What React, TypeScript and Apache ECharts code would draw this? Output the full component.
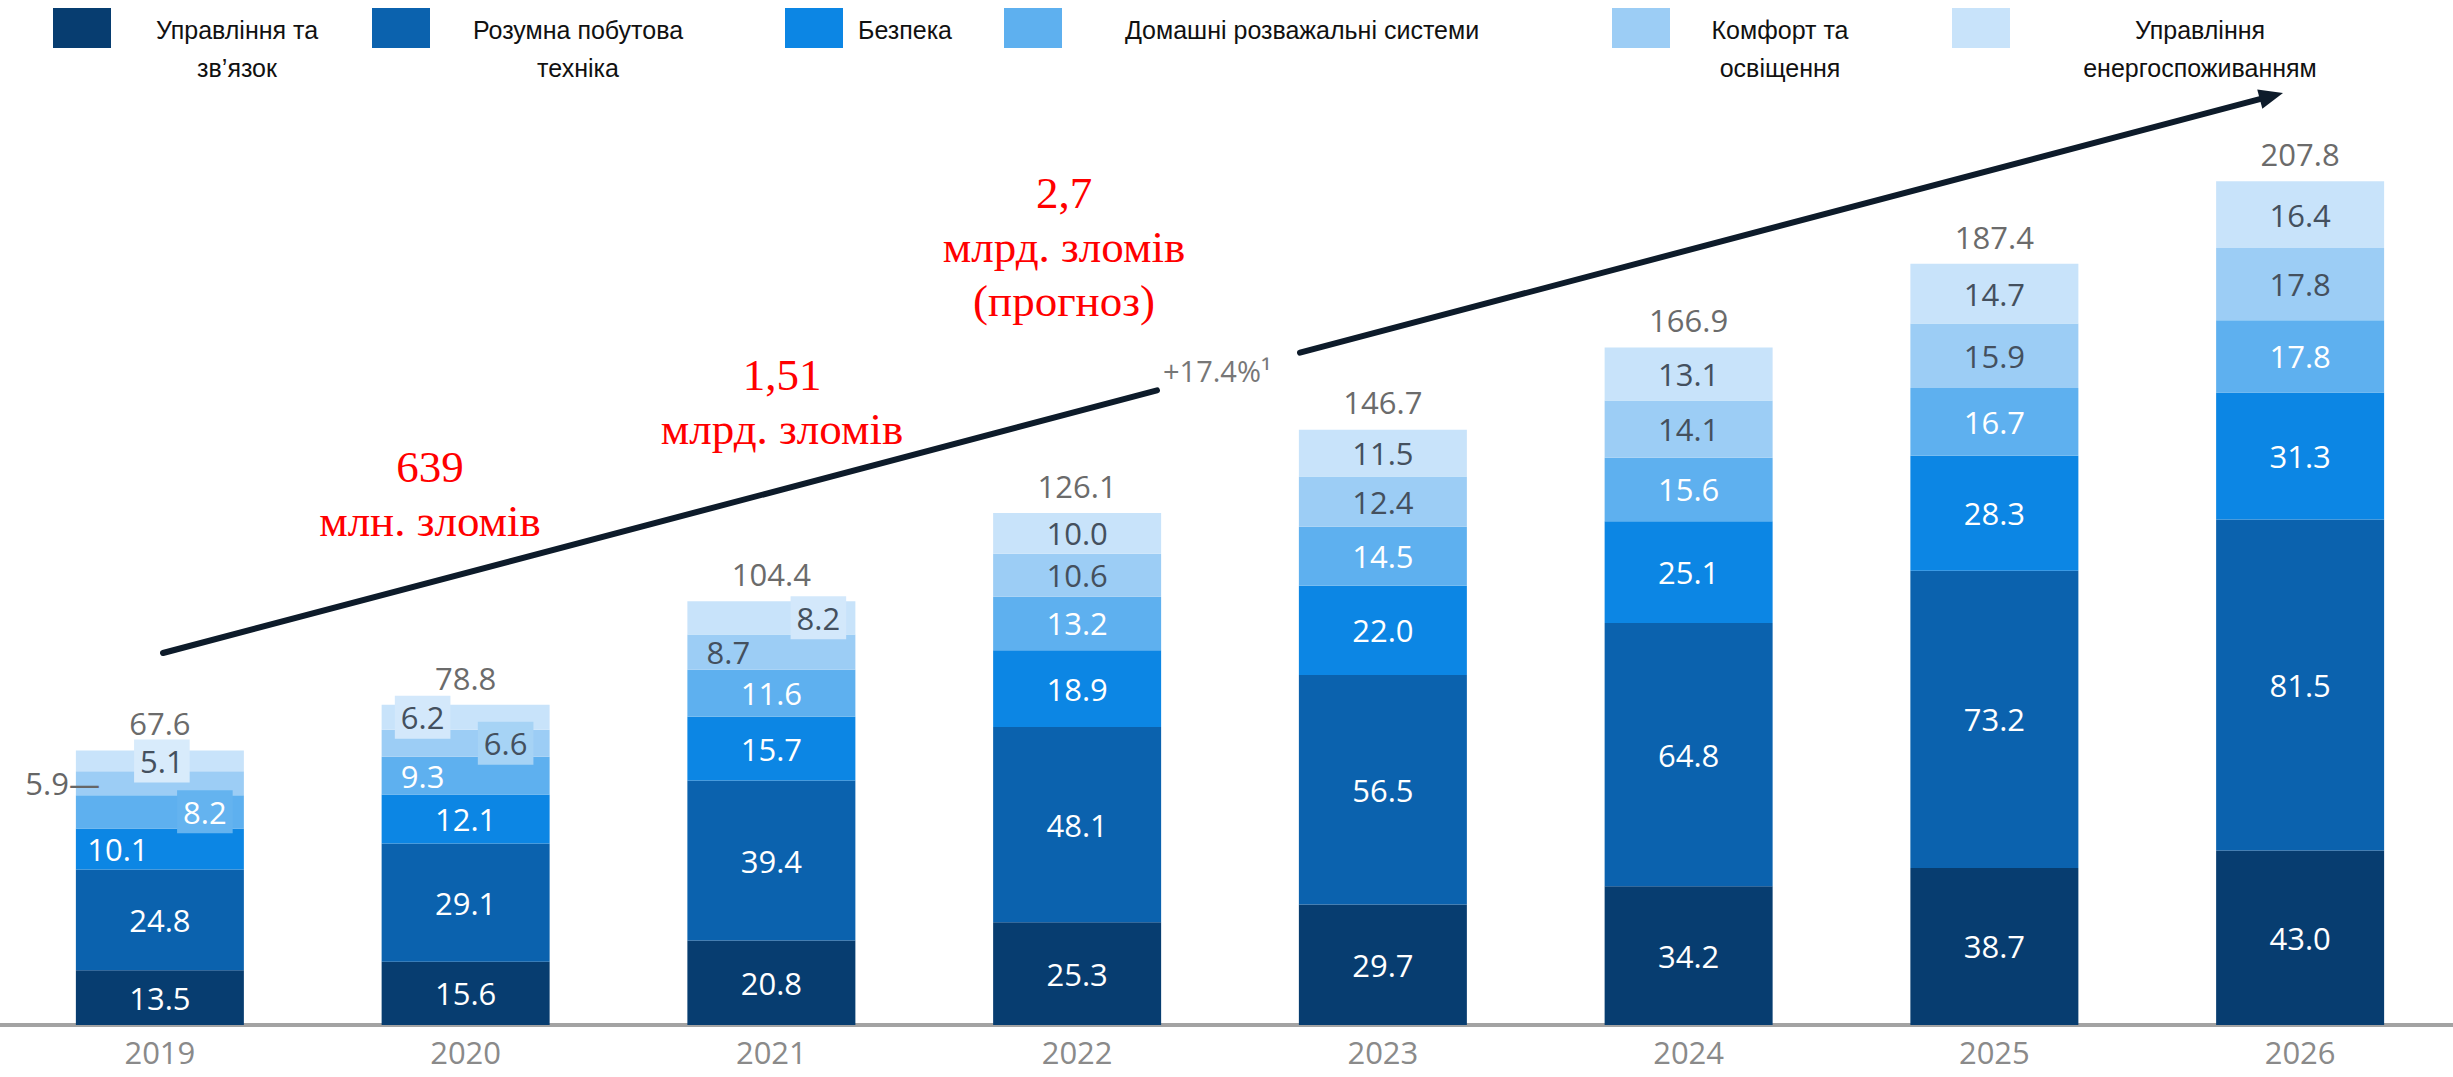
import React, { useEffect, useRef } from "react";
import * as echarts from "echarts";

const years = ["2019", "2020", "2021", "2022", "2023", "2024", "2025", "2026"];
const seriesNames = [
  "Управління та зв’язок",
  "Розумна побутова техніка",
  "Безпека",
  "Домашні розважальні системи",
  "Комфорт та освіщення",
  "Управління енергоспоживанням",
];
const legendLabels = [
  "Управління та\nзв’язок",
  "Розумна побутова\nтехніка",
  "Безпека",
  "Домашні розважальні системи",
  "Комфорт та\nосвіщення",
  "Управління\nенергоспоживанням",
];
const controlConnect = [13.5, 15.6, 20.8, 25.3, 29.7, 34.2, 38.7, 43.0];
const smartAppliances = [24.8, 29.1, 39.4, 48.1, 56.5, 64.8, 73.2, 81.5];
const security = [10.1, 12.1, 15.7, 18.9, 22.0, 25.1, 28.3, 31.3];
const entertainment = [8.2, 9.3, 11.6, 13.2, 14.5, 15.6, 16.7, 17.8];
const comfortLighting = [5.9, 6.6, 8.7, 10.6, 12.4, 14.1, 15.9, 17.8];
const energyMgmt = [5.1, 6.2, 8.2, 10.0, 11.5, 13.1, 14.7, 16.4];
const totals = [67.6, 78.8, 104.4, 126.1, 146.7, 166.9, 187.4, 207.8];
const seriesValues = [controlConnect, smartAppliances, security, entertainment, comfortLighting, energyMgmt];

const annotations = [
  { lines: ["639", "млн. зломів"] },
  { lines: ["1,51", "млрд. зломів"] },
  { lines: ["2,7", "млрд. зломів", "(прогноз)"] },
];
const cagrLabel = "+17.4%¹";

const colors = ["#073d70", "#0b62ae", "#0c86e4", "#5eb0ef", "#9ccdf5", "#c8e3fa"];
const labelColors = ["#ffffff", "#ffffff", "#ffffff", "#ffffff", "#44505e", "#44505e"];

// label placement tweaks for small segments: [seriesIndex][yearIndex]
const labelTweaks: Record<string, any> = {
  "2-0": { offset: [-42, 0] },
  "3-0": { offset: [45, 0], backgroundColor: "#64b3ef", padding: [6, 6] },
  "4-0": { position: "left", distance: 0, offset: [24, 0], formatter: "{c}—", color: "#666666" },
  "5-0": { offset: [2, 0], backgroundColor: "#d8ebfb", padding: [6, 6] },
  "3-1": { offset: [-43, 0] },
  "4-1": { offset: [40, 0], backgroundColor: "#a6d3f5", padding: [6, 6] },
  "5-1": { offset: [-43, 0], backgroundColor: "#d3e8fb", padding: [6, 6] },
  "4-2": { offset: [-43, 0] },
  "5-2": { offset: [47, 0], backgroundColor: "#d3e8fb", padding: [6, 6] },
};

const LABEL_FONT = "'Open Sans', 'Noto Sans', sans-serif";

export default function App() {
  const ref = useRef<HTMLDivElement>(null);

  useEffect(() => {
    if (!ref.current) return;
    const chart = echarts.init(ref.current, undefined, { renderer: "svg" });

    const barSeries: any[] = seriesValues.map((vals, si) => ({
      name: seriesNames[si],
      type: "bar",
      stack: "total",
      barWidth: 168,
      itemStyle: { color: colors[si] },
      label: {
        show: true,
        position: "inside",
        color: labelColors[si],
        fontSize: 31,
        fontFamily: LABEL_FONT,
        formatter: (p: any) => Number(p.value).toFixed(1),
      },
      data: vals.map((v, yi) => {
        const t = labelTweaks[`${si}-${yi}`];
        if (!t) return v;
        const lab: any = { ...t };
        if (t.formatter) {
          const f = t.formatter;
          lab.formatter = () => f.replace("{c}", v.toFixed(1));
        }
        return { value: v, label: lab };
      }),
    }));

    barSeries.push({
      name: "total",
      type: "bar",
      barWidth: 168,
      barGap: "-100%",
      z: 1,
      itemStyle: { color: "rgba(0,0,0,0)" },
      label: {
        show: true,
        position: "top",
        distance: 12,
        color: "#6b6b6b",
        fontSize: 31,
        fontFamily: LABEL_FONT,
        formatter: (p: any) => Number(p.value).toFixed(1),
      },
      data: totals,
    });

    // legend drawn as graphic
    const squareX = [53, 372, 785, 1004, 1612, 1952];
    const textX = [237, 578, 905, 1302, 1780, 2200];
    const legendGraphic: any[] = [];
    seriesNames.forEach((_, i) => {
      legendGraphic.push({
        type: "rect",
        shape: { x: squareX[i], y: 8, width: 58, height: 40 },
        style: { fill: colors[i] },
      });
      legendGraphic.push({
        type: "text",
        x: textX[i],
        y: 11,
        style: {
          text: legendLabels[i],
          fill: "#111111",
          fontSize: 25,
          fontFamily: "'Liberation Sans Narrow', 'Liberation Sans', Arial, sans-serif",
          align: "center",
          verticalAlign: "top",
          lineHeight: 38,
        },
      });
    });

    // red annotations
    const annPos = [
      { x: 430, y: 440 },
      { x: 782, y: 348 },
      { x: 1064, y: 166 },
    ];
    const annGraphic = annotations.map((a, i) => ({
      type: "text",
      x: annPos[i].x,
      y: annPos[i].y,
      style: {
        text: a.lines.join("\n"),
        fill: "#ff0000",
        fontSize: 45,
        fontWeight: "normal",
        lineHeight: 54,
        fontFamily: "'Liberation Serif', 'Times New Roman', serif",
        align: "center",
        verticalAlign: "top",
      },
    }));

    // trend arrow
    const start = [163, 653];
    const tip = [2283, 93];
    const dx = tip[0] - start[0];
    const dy = tip[1] - start[1];
    const len = Math.sqrt(dx * dx + dy * dy);
    const ux = dx / len;
    const uy = dy / len;
    const headLen = 24;
    const headHalf = 10;
    const base = [tip[0] - ux * headLen, tip[1] - uy * headLen];
    const px = -uy;
    const py = ux;
    const yAt = (x: number) => start[1] + (dy / dx) * (x - start[0]);
    const gapStart = 1157;
    const gapEnd = 1300;
    const lineStyle = { stroke: "#0d1b2a", lineWidth: 6, lineCap: "round" };
    const arrowGraphic: any[] = [
      {
        type: "line",
        shape: { x1: start[0], y1: start[1], x2: gapStart, y2: yAt(gapStart) },
        style: lineStyle,
      },
      {
        type: "line",
        shape: { x1: gapEnd, y1: yAt(gapEnd), x2: base[0], y2: base[1] },
        style: lineStyle,
      },
      {
        type: "polygon",
        shape: {
          points: [
            [tip[0], tip[1]],
            [base[0] + px * headHalf, base[1] + py * headHalf],
            [base[0] - px * headHalf, base[1] - py * headHalf],
          ],
        },
        style: { fill: "#0d1b2a" },
      },
      {
        type: "text",
        x: 1163,
        y: 370,
        style: {
          text: cagrLabel,
          fill: "#777777",
          fontSize: 29,
          fontFamily: LABEL_FONT,
          align: "left",
          verticalAlign: "middle",
        },
      },
    ];

    chart.setOption({
      animation: false,
      backgroundColor: "#ffffff",
      grid: { left: 7, width: 2448, top: 50.6, height: 974.4 },
      xAxis: {
        type: "category",
        data: years,
        axisLine: { show: true, lineStyle: { color: "#a3a3a3", width: 4 } },
        axisTick: { show: false },
        axisLabel: {
          color: "#8a8a8a",
          fontSize: 31,
          fontFamily: LABEL_FONT,
          margin: 11,
        },
      },
      yAxis: {
        type: "value",
        min: 0,
        max: 240,
        show: false,
        splitLine: { show: false },
      },
      series: barSeries,
      graphic: [
        {
          type: "line",
          shape: { x1: 0, y1: 1025, x2: 7, y2: 1025 },
          style: { stroke: "#a3a3a3", lineWidth: 4 },
        },
        ...legendGraphic,
        ...annGraphic,
        ...arrowGraphic,
      ],
    });

    return () => chart.dispose();
  }, []);

  return (
    <div
      ref={ref}
      style={{ position: "fixed", left: 0, top: 0, width: 2453, height: 1077, background: "#fff" }}
    />
  );
}
